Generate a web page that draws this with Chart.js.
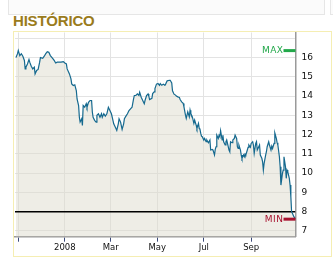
<!DOCTYPE html>
<html>
<head>
<meta charset="utf-8">
<title>Histórico</title>
<script src="https://cdn.jsdelivr.net/npm/chart.js@4/dist/chart.umd.min.js"></script>
<style>
  html, body { margin: 0; padding: 0; background: #fff; }
  body { width: 333px; height: 270px; position: relative; overflow: hidden; font-family: "Liberation Sans", Arial, sans-serif; }
  .topbox { position: absolute; left: 8px; top: -2px; width: 315px; height: 15px; border: 1px solid #e6e6e6; background: #fbfbfb; }
  .topbox2 { position: absolute; left: 330px; top: -2px; width: 20px; height: 15px; border: 1px solid #e6e6e6; background: #fbfbfb; }
  h2 { position: absolute; left: 13px; top: 12px; margin: 0; font-size: 15px; font-weight: bold; color: #9a7b1c; letter-spacing: -0.2px; }
  .frame { position: absolute; left: 13px; top: 31px; width: 317px; height: 224px; border: 1px solid #f5eeb3; }
  canvas { position: absolute; left: 0; top: 0; }
</style>
</head>
<body>
<div class="topbox"></div>
<div class="topbox2"></div>
<h2>HISTÓRICO</h2>
<div class="frame"></div>
<canvas id="histChart" width="333" height="270"></canvas>
<script>
// days counted from 1 Nov 2007
const days = [
  -3, -1, 0, 2, 4, 6, 8, 9, 10, 12, 14, 15, 17, 19, 21, 22, 24, 26, 28, 29,
  32, 34, 36, 38, 40, 42, 45, 47, 49, 51, 56, 59, 61, 63, 64, 66, 67, 69, 70, 72,
  74, 76, 77, 79, 80, 81, 83, 84, 85, 87, 89, 90, 92, 94, 96, 97, 98, 100, 102, 103,
  105, 107, 109, 110, 112, 114, 116, 118, 120, 122, 124, 125, 127, 129, 131, 132, 134, 136, 138, 139,
  141, 143, 145, 147, 149, 151, 152, 154, 156, 158, 159, 161, 163, 165, 166, 168, 170, 171, 172, 175,
  176, 178, 179, 181, 183, 185, 186, 188, 190, 192, 193, 195, 198, 199, 201, 202, 204, 206, 207, 209,
  211, 212, 214, 216, 217, 219, 220, 222, 224, 225, 226, 228, 230, 231, 233, 234, 236, 237, 238, 239,
  240, 241, 243, 244, 246, 247, 249, 251, 252, 254, 255, 257, 258, 259, 260, 262, 263, 264, 265, 267,
  268, 269, 271, 272, 273, 275, 276, 277, 278, 280, 281, 283, 284, 286, 287, 288, 289, 291, 292, 293,
  295, 296, 297, 298, 300, 301, 302, 304, 305, 307, 308, 309, 311, 312, 313, 315, 316, 317, 319, 320,
  321, 322, 324, 325, 326, 328, 329, 331, 332, 333, 335, 336, 338, 339, 340, 342, 343, 344, 346, 347,
  348, 350, 351, 352, 353, 355, 356, 357, 358, 359, 361, 363
];
const prices = [
  16.0, 16.2, 16.36, 16.1, 16.2, 16.07, 15.85, 15.41, 15.5, 15.67, 15.9, 15.76, 15.55, 15.41, 15.5, 15.15, 15.33, 15.38, 15.76, 16.0,
  15.96, 16.07, 16.2, 16.3, 16.27, 16.1, 15.96, 15.85, 15.72, 15.76, 15.76, 15.79, 15.72, 15.67, 15.41, 15.24, 15.15, 14.89, 14.63, 14.55,
  14.58, 14.29, 13.85, 13.51, 12.9, 12.65, 12.82, 12.48, 13.51, 13.42, 13.6, 13.42, 13.68, 13.77, 13.77, 13.17, 12.9, 12.74, 12.65, 13.0,
  13.08, 12.9, 13.08, 12.9, 13.08, 12.96, 13.08, 13.42, 13.25, 13.08, 12.74, 12.56, 12.39, 12.22, 12.56, 12.82, 12.65, 12.27, 12.56, 12.82,
  12.96, 13.08, 13.25, 13.34, 13.42, 13.85, 14.03, 14.03, 14.11, 14.03, 14.2, 13.94, 13.77, 13.6, 13.77, 14.03, 14.11, 13.99, 13.82, 13.88,
  14.13, 14.22, 14.39, 14.62, 14.65, 14.56, 14.65, 14.56, 14.62, 14.56, 14.62, 14.79, 14.82, 14.82, 14.68, 14.27, 14.1, 14.05, 14.0, 13.96,
  13.93, 13.82, 13.7, 13.62, 13.44, 13.01, 12.84, 13.18, 12.92, 13.27, 13.1, 12.92, 12.58, 12.75, 12.49, 12.32, 12.58, 12.32, 12.27, 12.06,
  11.92, 11.89, 11.72, 11.8, 11.63, 11.72, 11.58, 11.72, 11.2, 11.23, 11.2, 10.94, 11.23, 11.37, 11.97, 11.8, 11.97, 11.89, 12.2, 11.72,
  11.97, 11.63, 11.46, 11.63, 11.72, 11.37, 11.2, 11.11, 11.63, 11.58, 11.72, 11.8, 11.97, 11.8, 11.37, 11.28, 11.46, 11.2, 10.94, 10.77,
  10.94, 10.85, 10.99, 10.94, 11.2, 11.34, 11.46, 11.34, 11.54, 11.63, 11.46, 11.03, 11.54, 11.63, 11.2, 11.37, 11.46, 10.94, 10.77, 10.59,
  10.16, 10.51, 10.94, 11.11, 11.37, 11.63, 11.46, 11.2, 11.4, 11.28, 11.54, 12.09, 11.8, 11.58, 11.46, 10.85, 10.33, 9.38, 9.99, 10.16,
  10.85, 10.33, 9.73, 10.16, 10.07, 9.73, 9.38, 8.78, 8.0, 7.92, 7.74, 7.61
];

const xTickDays = [0, 61, 121, 182, 243, 305];
const xTickLabels = ["", "2008", "Mar", "May", "Jul", "Sep"];
const yTickValues = [7, 8, 9, 10, 11, 12, 13, 14, 15, 16, 17];
const yTickLabels = ["7", "8", "9", "10", "11", "12", "13", "14", "15", "16", ""];
const refLevel = 8;

const X_MIN = -4.3;
const X_MAX = 363.1;

// MAX / MIN flags at the right edge of the plot
function drawFlag(ctx, right, y, text, color) {
  ctx.save();
  ctx.strokeStyle = color;
  ctx.lineWidth = 3;
  ctx.beginPath();
  ctx.moveTo(right - 12, y);
  ctx.lineTo(right, y);
  ctx.stroke();
  ctx.fillStyle = color;
  ctx.font = "9px 'DejaVu Sans'";
  ctx.letterSpacing = "0.5px";
  ctx.textAlign = "right";
  ctx.textBaseline = "middle";
  ctx.fillText(text, right - 12, y);
  ctx.restore();
}

const flagPlugin = {
  id: "maxMinFlags",
  afterDatasetsDraw(chart) {
    const { ctx, chartArea, scales } = chart;
    const hi = Math.max(...prices);
    const lo = Math.min(...prices);
    drawFlag(ctx, chartArea.right, scales.y.getPixelForValue(hi), "MAX", "#22a84a");
    drawFlag(ctx, chartArea.right, scales.y.getPixelForValue(lo), "MIN", "#a8122f");
  },
};

const tickFont = { family: "'DejaVu Sans', sans-serif", size: 9 };

new Chart(document.getElementById("histChart").getContext("2d"), {
  type: "line",
  data: {
    datasets: [
      {
        data: days.map((d, i) => ({ x: d, y: prices[i] })),
        borderColor: "#15698f",
        borderWidth: 1.2,
        backgroundColor: "rgba(221, 219, 205, 0.5)",
        fill: "start",
        pointRadius: 0,
        tension: 0,
      },
      {
        data: [{ x: X_MIN, y: refLevel }, { x: X_MAX, y: refLevel }],
        borderColor: "#000",
        borderWidth: 1.5,
        fill: false,
        pointRadius: 0,
      },
    ],
  },
  options: {
    responsive: false,
    animation: false,
    layout: { padding: { left: 15, top: 32.5, right: 0, bottom: 13.3 } },
    plugins: {
      legend: { display: false },
      tooltip: { enabled: false },
      filler: { drawTime: "beforeDatasetsDraw" },
    },
    scales: {
      x: {
        type: "linear",
        min: X_MIN,
        max: X_MAX,
        afterBuildTicks: (s) => { s.ticks = xTickDays.map((v) => ({ value: v })); },
        afterFit: (s) => { s.height = 20; },
        ticks: {
          callback: (v, i) => xTickLabels[i],
          color: "#111",
          font: { family: "'DejaVu Sans', sans-serif", size: 8.5 },
          padding: 1,
          maxRotation: 0,
          autoSkip: false,
        },
        grid: { color: "#e3e3e3", tickColor: "#3b4a78", tickLength: 5 },
        border: { color: "#9a9a9a", width: 1.5 },
      },
      y: {
        type: "linear",
        position: "right",
        min: 6.7,
        max: 17.3,
        afterBuildTicks: (s) => { s.ticks = yTickValues.map((v) => ({ value: v })); },
        afterFit: (s) => { s.width = 37.5; },
        ticks: {
          callback: (v, i) => yTickLabels[i],
          color: "#111",
          font: tickFont,
          padding: 6,
        },
        grid: { color: "#e3e3e3", drawTicks: false },
        border: { color: "#9a9a9a", width: 1.5 },
      },
    },
  },
  plugins: [flagPlugin],
});
</script>
</body>
</html>
